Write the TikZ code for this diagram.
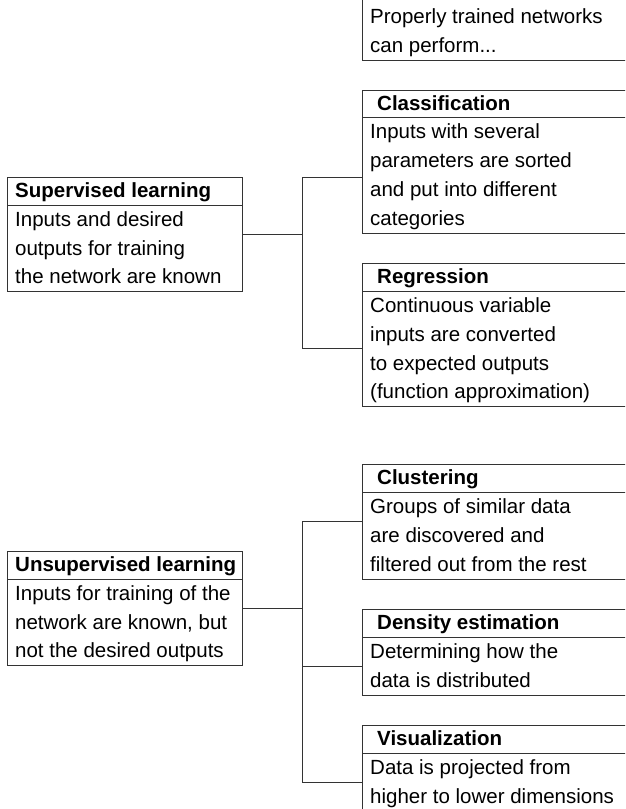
\documentclass[tikz,border=0pt]{standalone}
\usepackage{fontspec}
\setmainfont{Liberation Sans}
\begin{document}
\begin{tikzpicture}[x=1pt,y=-1pt,
  box/.style={draw=black!80, line width=1pt, anchor=north west, inner sep=0pt, outer sep=0pt},
  rbox/.style={box, minimum width=290},
  lbox/.style={box, minimum width=235},
  conn/.style={draw=black!80, line width=1pt},
  txt/.style={anchor=base west, inner sep=0pt, font=\fontsize{20.5}{29}\selectfont},
  head/.style={anchor=base west, inner sep=0pt, font=\fontsize{20.5}{29}\selectfont\bfseries}]
\useasboundingbox (0,0) rectangle (625,809);
\clip (0,0) rectangle (625,809);

% header rule under the title row of a box
\newcommand{\titlerule}[2]{\draw[conn] ([yshift=-#2pt]#1.north west) -- ([yshift=-#2pt]#1.north east);}

% ---------- right column, upper group ----------
\node[rbox, minimum height=70] (intro) at (362,-10) {};
\node[txt] (introA) at (370,23.5) {Properly trained networks};
\node[txt] (introB) at (370,52.5) {can perform...};

\node[rbox, minimum height=143] (cls) at (362,90) {};
\titlerule{cls}{27}
\node[head] (clsT) at (377,110.5) {Classification};
\node[txt] (clsA) at (370,138.5) {Inputs with several};
\node[txt] (clsB) at (370,167.5) {parameters are sorted};
\node[txt] (clsC) at (370,196.5) {and put into different};
\node[txt] (clsD) at (370,225.5) {categories};

\node[rbox, minimum height=143] (reg) at (362,263) {};
\titlerule{reg}{28}
\node[head] (regT) at (377,283.5) {Regression};
\node[txt] (regA) at (370,312.5) {Continuous variable};
\node[txt] (regB) at (370,341.3) {inputs are converted};
\node[txt] (regC) at (370,370) {to expected outputs};
\node[txt] (regD) at (370,398.8) {(function approximation)};

% ---------- left column ----------
\node[lbox, minimum height=114] (sup) at (7,177) {};
\titlerule{sup}{28}
\node[head] (supT) at (15,197.5) {Supervised learning};
\node[txt] (supA) at (15,226.5) {Inputs and desired};
\node[txt] (supB) at (15,255.2) {outputs for training};
\node[txt] (supC) at (15,283.8) {the network are known};

\node[lbox, minimum height=114] (uns) at (7,551) {};
\titlerule{uns}{28}
\node[head] (unsT) at (15,571.5) {Unsupervised learning};
\node[txt] (unsA) at (15,600.5) {Inputs for training of the};
\node[txt] (unsB) at (15,629.2) {network are known, but};
\node[txt] (unsC) at (15,657.8) {not the desired outputs};

% ---------- right column, lower group ----------
\node[rbox, minimum height=115] (clu) at (362,464) {};
\titlerule{clu}{28}
\node[head] (cluT) at (377,484.5) {Clustering};
\node[txt] (cluA) at (370,513.5) {Groups of similar data};
\node[txt] (cluB) at (370,542.5) {are discovered and};
\node[txt] (cluC) at (370,571.5) {filtered out from the rest};

\node[rbox, minimum height=86] (den) at (362,609) {};
\titlerule{den}{28}
\node[head] (denT) at (377,629.5) {Density estimation};
\node[txt] (denA) at (370,658.5) {Determining how the};
\node[txt] (denB) at (370,687.5) {data is distributed};

\node[rbox, minimum height=86] (vis) at (362,725) {};
\titlerule{vis}{28}
\node[head] (visT) at (377,745.5) {Visualization};
\node[txt] (visA) at (370,774.5) {Data is projected from};
\node[txt] (visB) at (370,803.5) {higher to lower dimensions};

% ---------- connectors ----------
\coordinate (clsIn) at ([yshift=-87pt]cls.north west);
\coordinate (regIn) at ([yshift=-85pt]reg.north west);
\coordinate (cluIn) at ([yshift=-57pt]clu.north west);
\coordinate (denIn) at ([yshift=-57pt]den.north west);
\coordinate (visIn) at ([yshift=-57pt]vis.north west);

\draw[conn] (sup.east) -- ++(60,0) coordinate (supJ);
\draw[conn] (clsIn) -| (supJ);
\draw[conn] (regIn) -| (supJ);

\draw[conn] (uns.east) -- ++(60,0) coordinate (unsJ);
\draw[conn] (cluIn) -| (unsJ);
\draw[conn] (denIn) -| (unsJ);
\draw[conn] (visIn) -| (unsJ);
\end{tikzpicture}
\end{document}
